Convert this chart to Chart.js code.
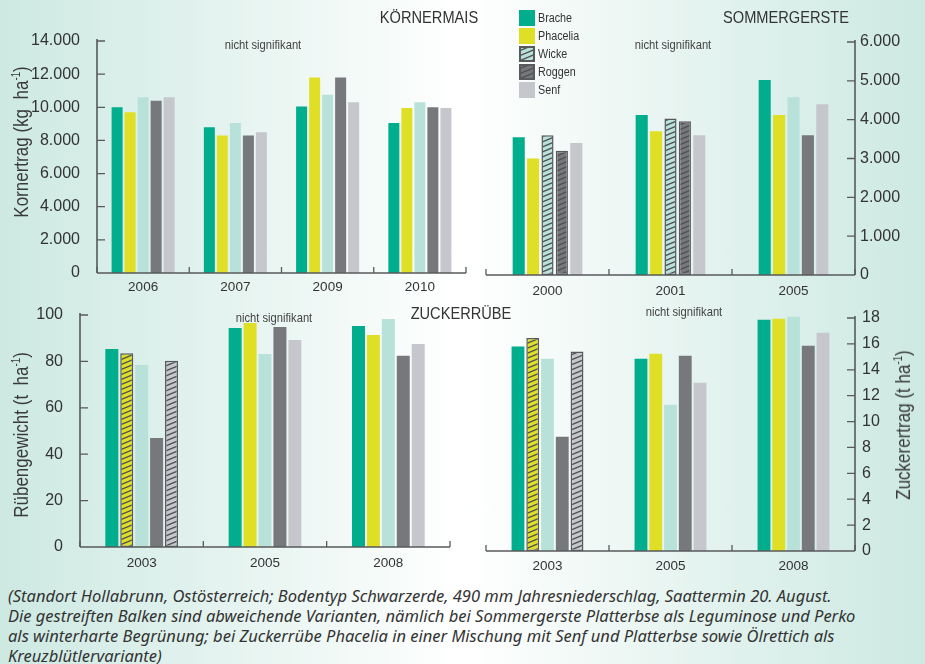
<!DOCTYPE html>
<html lang="de">
<head>
<meta charset="utf-8">
<script src="https://cdn.jsdelivr.net/npm/chart.js@4.4.1/dist/chart.umd.min.js"></script>
<style>
  html, body { margin: 0; padding: 0; }
  body {
    width: 925px; height: 664px; position: relative; overflow: hidden;
    background: linear-gradient(to right, #cde9e2 0%, #e4f3ef 24%, #ffffff 50%, #e4f3ef 76%, #cde9e2 100%);
    font-family: 'Liberation Sans', sans-serif; color: #333;
  }
  .panel { position: absolute; }
  .lbl { position: absolute; white-space: nowrap; transform: translate(-50%, -50%) scaleX(0.86); }
  .title { font-size: 17px; color: #333; }
  .ns { font-size: 13px; color: #444; }
  .ytitle { position: absolute; white-space: nowrap; font-size: 21px; color: #3a3a3a;
            transform: translate(-50%, -50%) rotate(-90deg) scaleX(0.81); }
  .ytitle sup { font-size: 12px; vertical-align: 8px; line-height: 0; }
  .legend { position: absolute; left: 519px; top: 9px; font-size: 12.5px; color: #333; }
  .legend div { height: 18px; display: flex; align-items: center; }
  .legend span.sw { width: 16px; height: 16px; margin-right: 3px; box-sizing: border-box; flex: none; }
  .legend span.tx { display: inline-block; transform: scaleX(0.86); transform-origin: left center; }
  .caption { position: absolute; left: 8px; top: 586px; font-family: 'Noto Sans', sans-serif;
             font-style: italic; font-size: 16.5px; line-height: 20px; color: #333; white-space: nowrap; }
</style>
</head>
<body>

<div class="panel" style="left:0;top:0;width:475px;height:300px"><canvas id="mais"></canvas></div>
<div class="panel" style="left:475px;top:0;width:450px;height:300px"><canvas id="gerste"></canvas></div>
<div class="panel" style="left:0;top:300px;width:475px;height:270px"><canvas id="ruebe"></canvas></div>
<div class="panel" style="left:475px;top:300px;width:450px;height:270px"><canvas id="zucker"></canvas></div>

<div class="lbl title" style="left:429px;top:18px">KÖRNERMAIS</div>
<div class="lbl title" style="left:786px;top:18px">SOMMERGERSTE</div>
<div class="lbl title" style="left:461px;top:314px">ZUCKERRÜBE</div>

<div class="lbl ns" style="left:263px;top:44px">nicht signifikant</div>
<div class="lbl ns" style="left:673px;top:44px">nicht signifikant</div>
<div class="lbl ns" style="left:274px;top:317px">nicht signifikant</div>
<div class="lbl ns" style="left:684px;top:311px">nicht signifikant</div>

<div class="ytitle" style="left:21px;top:142px">Kornertrag (kg&nbsp; ha<sup>-1</sup>)</div>
<div class="ytitle" style="left:21px;top:435px">Rübengewicht (t&nbsp; ha<sup>-1</sup>)</div>
<div class="ytitle" style="left:903px;top:425px">Zuckerertrag (t ha<sup>-1</sup>)</div>

<div class="legend" id="legend"></div>

<div class="caption">(Standort Hollabrunn, Ostösterreich; Bodentyp Schwarzerde, 490 mm Jahresniederschlag, Saattermin 20. August.<br>Die gestreiften Balken sind abweichende Varianten, nämlich bei Sommergerste Platterbse als Leguminose und Perko<br>als winterharte Begrünung; bei Zuckerrübe Phacelia in einer Mischung mit Senf und Platterbse sowie Ölrettich als<br>Kreuzblütlervariante)</div>

<script>
// ---- Daten ----
const varianten = ['Brache', 'Phacelia', 'Wicke', 'Roggen', 'Senf'];

// Körnermais, Kornertrag (kg/ha)
const maisJahre    = ['2006', '2007', '2009', '2010'];
const maisBrache   = [10000, 8800, 10050, 9050];
const maisPhacelia = [9700, 8300, 11800, 9950];
const maisWicke    = [10600, 9050, 10750, 10300];
const maisRoggen   = [10400, 8300, 11800, 10000];
const maisSenf     = [10600, 8500, 10300, 9950];
const maisTicks    = [0, 2000, 4000, 6000, 8000, 10000, 12000, 14000];

// Sommergerste, Kornertrag (kg/ha)
const gersteJahre    = ['2000', '2001', '2005'];
const gersteBrache   = [3550, 4120, 5020];
const gerstePhacelia = [3000, 3700, 4120];
const gersteWicke    = [3600, 4030, 4580];
const gersteRoggen   = [3200, 3960, 3600];
const gersteSenf     = [3400, 3600, 4400];
const gersteTicks    = [0, 1000, 2000, 3000, 4000, 5000, 6000];
// abweichende Varianten (gestreift)
const gersteWickeAbw  = [true, true, false];
const gersteRoggenAbw = [true, true, false];

// Zuckerrübe, Rübengewicht (t/ha)
const ruebeJahre    = ['2003', '2005', '2008'];
const ruebeBrache   = [85.3, 94.4, 95.3];
const ruebePhacelia = [83.5, 96.6, 91.4];
const ruebeWicke    = [78.5, 83.2, 98.3];
const ruebeRoggen   = [47.0, 94.8, 82.4];
const ruebeSenf     = [80.3, 89.2, 87.5];
const ruebeTicks    = [0, 20, 40, 60, 80, 100];

// Zuckerrübe, Zuckerertrag (t/ha)
const zuckerBrache   = [15.8, 14.85, 17.87];
const zuckerPhacelia = [16.45, 15.24, 17.95];
const zuckerWicke    = [14.85, 11.29, 18.1];
const zuckerRoggen   = [8.82, 15.08, 15.86];
const zuckerSenf     = [15.42, 13.0, 16.86];
const zuckerTicks    = [0, 2, 4, 6, 8, 10, 12, 14, 16, 18];
// abweichende Varianten (gestreift)
const ruebePhaceliaAbw = [true, false, false];
const ruebeSenfAbw     = [true, false, false];

// ---- Gestaltung ----
const FARBEN = { Brache: '#00ad8d', Phacelia: '#dfe026', Wicke: '#b8e2d9', Roggen: '#76787c', Senf: '#c6c7cc' };
const STREIFEN = '#4f5054';
const ACHSE = '#58595b';
const TEXT = '#333333';
const FONT_TICK = "'Liberation Sans', sans-serif";

function schraffur(fill, line) {
  const w = 12, h = 5;
  const c = document.createElement('canvas');
  c.width = w; c.height = h;
  const g = c.getContext('2d');
  g.fillStyle = fill; g.fillRect(0, 0, w, h);
  g.strokeStyle = line; g.lineWidth = 1.3;
  for (let k = -1; k <= 1; k++) {
    g.beginPath();
    g.moveTo(-w, 2 * h + k * h);
    g.lineTo(2 * w, -h + k * h);
    g.stroke();
  }
  return g.createPattern(c, 'repeat');
}

function tausender(v) {
  return String(v).replace(/\B(?=(\d{3})+(?!\d))/g, '.');
}

function datensatz(name, werte, abw) {
  const farbe = FARBEN[name];
  const muster = abw ? schraffur(farbe, STREIFEN) : null;
  return {
    label: name,
    data: werte,
    clip: false,
    backgroundColor: abw ? abw.map(a => a ? muster : farbe) : farbe,
    borderColor: abw ? abw.map(a => a ? ACHSE : farbe) : farbe,
    borderWidth: abw ? abw.map(a => a ? 1.5 : 0) : 0,
    borderSkipped: false
  };
}

// Achsenlinien mit nach innen zeigenden Strichen
const achsen = {
  id: 'achsen',
  afterDatasetsDraw(chart, args, opts) {
    const { ctx } = chart;
    const x = chart.scales.x, y = chart.scales.y;
    const rechts = opts.rechts;
    const yTop = y.getPixelForValue(y.max), yBot = y.getPixelForValue(y.min);
    const xL = x.getPixelForValue(-0.5), xR = x.getPixelForValue(x.ticks.length - 0.5);
    const ax = rechts ? xR : xL;
    ctx.save();
    ctx.strokeStyle = ACHSE;
    ctx.lineWidth = 1.6;
    ctx.beginPath();
    ctx.moveTo(ax, yTop - 2);
    ctx.lineTo(ax, yBot);
    ctx.moveTo(xL, yBot);
    ctx.lineTo(xR, yBot);
    ctx.stroke();
    ctx.lineWidth = 1.3;
    ctx.beginPath();
    y.ticks.forEach(t => {
      const py = y.getPixelForValue(t.value);
      if (Math.abs(py - yBot) < 1) return;
      ctx.moveTo(ax, py);
      ctx.lineTo(ax + (rechts ? -8 : 8), py);
    });
    for (let i = 0; i <= x.ticks.length; i++) {
      const px = x.getPixelForValue(i - 0.5);
      ctx.moveTo(px, yBot);
      ctx.lineTo(px, yBot - 6);
    }
    ctx.stroke();
    ctx.restore();
  }
};

function diagramm(id, cfg) {
  const rechts = cfg.rechts;
  const W = cfg.w, H = cfg.h;
  const yMin = cfg.ticks[0], yMax = cfg.ticks[cfg.ticks.length - 1];
  return new Chart(document.getElementById(id), {
    type: 'bar',
    data: { labels: cfg.labels, datasets: cfg.datasets },
    plugins: [achsen],
    options: {
      responsive: true,
      maintainAspectRatio: false,
      animation: false,
      events: [],
      layout: {
        padding: rechts
          ? { left: cfg.area.left, top: cfg.area.top, right: 0, bottom: 0 }
          : { left: 0, top: cfg.area.top, right: W - cfg.area.right, bottom: 0 }
      },
      datasets: { bar: { categoryPercentage: cfg.cat, barPercentage: cfg.bar } },
      plugins: { legend: { display: false }, tooltip: { enabled: false }, achsen: { rechts } },
      scales: {
        x: {
          grid: { display: false, drawTicks: false },
          border: { display: false },
          ticks: { color: TEXT, font: { family: FONT_TICK, size: 13.5 }, padding: cfg.xpad, maxRotation: 0 },
          afterFit: s => { s.height = H - cfg.area.bottom; s.paddingLeft = 0; s.paddingRight = 0; }
        },
        y: {
          position: rechts ? 'right' : 'left',
          min: yMin,
          max: yMax,
          afterBuildTicks: s => { s.ticks = cfg.ticks.map(v => ({ value: v })); },
          grid: { display: false, drawTicks: false },
          border: { display: false },
          ticks: { color: TEXT, font: { family: FONT_TICK, size: 16 }, padding: cfg.ypad,
                   callback: v => tausender(v) },
          // feste Breite, Randabstand nur halbe Beschriftungshöhe
          afterFit: s => {
            s.width = rechts ? W - cfg.area.right : cfg.area.left;
            s.paddingTop = 10; s.paddingBottom = 10;
          }
        }
      }
    }
  });
}

diagramm('mais', {
  w: 475, h: 300, rechts: false,
  area: { left: 97, right: 466, top: 41, bottom: 273 },
  cat: 0.705, bar: 0.846, xpad: 6, ypad: 17,
  labels: maisJahre, ticks: maisTicks,
  datasets: [
    datensatz('Brache', maisBrache), datensatz('Phacelia', maisPhacelia),
    datensatz('Wicke', maisWicke), datensatz('Roggen', maisRoggen), datensatz('Senf', maisSenf)
  ]
});

diagramm('gerste', {
  w: 450, h: 300, rechts: true,
  area: { left: 11, right: 380, top: 42, bottom: 275 },
  cat: 0.585, bar: 0.84, xpad: 8, ypad: 5,
  labels: gersteJahre, ticks: gersteTicks,
  datasets: [
    datensatz('Brache', gersteBrache), datensatz('Phacelia', gerstePhacelia),
    datensatz('Wicke', gersteWicke, gersteWickeAbw), datensatz('Roggen', gersteRoggen, gersteRoggenAbw),
    datensatz('Senf', gersteSenf)
  ]
});

diagramm('ruebe', {
  w: 475, h: 270, rechts: false,
  area: { left: 80, right: 450, top: 15, bottom: 247 },
  cat: 0.605, bar: 0.87, xpad: 8, ypad: 17,
  labels: ruebeJahre, ticks: ruebeTicks,
  datasets: [
    datensatz('Brache', ruebeBrache), datensatz('Phacelia', ruebePhacelia, ruebePhaceliaAbw),
    datensatz('Wicke', ruebeWicke), datensatz('Roggen', ruebeRoggen), datensatz('Senf', ruebeSenf, ruebeSenfAbw)
  ]
});

diagramm('zucker', {
  w: 450, h: 270, rechts: true,
  area: { left: 11, right: 380, top: 18, bottom: 251 },
  cat: 0.6, bar: 0.87, xpad: 7, ypad: 7,
  labels: ruebeJahre, ticks: zuckerTicks,
  datasets: [
    datensatz('Brache', zuckerBrache), datensatz('Phacelia', zuckerPhacelia, ruebePhaceliaAbw),
    datensatz('Wicke', zuckerWicke), datensatz('Roggen', zuckerRoggen), datensatz('Senf', zuckerSenf, ruebeSenfAbw)
  ]
});

// Legende mit gestreiften Feldern für Wicke und Roggen
const legendeStreifen = { Wicke: true, Roggen: true };
const legende = document.getElementById('legend');
varianten.forEach(name => {
  const zeile = document.createElement('div');
  const feld = document.createElement('span');
  feld.className = 'sw';
  if (legendeStreifen[name]) {
    const c = document.createElement('canvas');
    c.width = 16; c.height = 16;
    const g = c.getContext('2d');
    g.fillStyle = schraffur(FARBEN[name], STREIFEN);
    g.fillRect(0, 0, 16, 16);
    g.strokeStyle = ACHSE; g.lineWidth = 2;
    g.strokeRect(1, 1, 14, 14);
    feld.style.background = 'url(' + c.toDataURL() + ')';
  } else {
    feld.style.background = FARBEN[name];
  }
  const text = document.createElement('span');
  text.className = 'tx';
  text.textContent = name;
  zeile.appendChild(feld);
  zeile.appendChild(text);
  legende.appendChild(zeile);
});
</script>
</body>
</html>
